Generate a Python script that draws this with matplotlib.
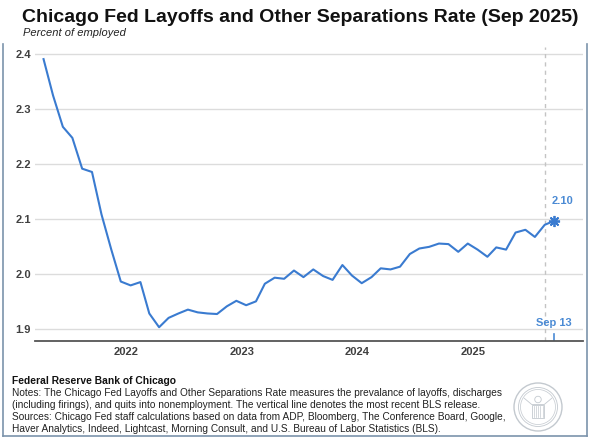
import matplotlib
matplotlib.use("Agg")
import matplotlib.pyplot as plt
from matplotlib.lines import Line2D
from matplotlib.patches import Circle, Rectangle
import pandas as pd
import numpy as np

plt.rcParams['font.family'] = ['Liberation Sans', 'DejaVu Sans']

# monthly readings (mid-month), Apr 2021 - Aug 2025
rate = [2.391, 2.325, 2.268, 2.248, 2.192, 2.186, 2.109, 2.045, 1.987,
        1.980, 1.986, 1.929, 1.904, 1.921, 1.929, 1.936, 1.931, 1.929, 1.928, 1.942, 1.952,
        1.944, 1.951, 1.983, 1.994, 1.992, 2.007, 1.995, 2.009, 1.997, 1.990, 2.017, 1.998,
        1.984, 1.995, 2.011, 2.009, 2.014, 2.037, 2.047, 2.050, 2.056, 2.055, 2.041, 2.056,
        2.045, 2.032, 2.049, 2.045, 2.076, 2.081, 2.068, 2.090]
latest_date = "2025-09-13"
latest_rate = 2.097
latest_label = "2.10"
release_date = "2025-08-15"
year_ticks = [2022, 2023, 2024, 2025]
y_ticks = [1.9, 2.0, 2.1, 2.2, 2.3, 2.4]

title = "Chicago Fed Layoffs and Other Separations Rate (Sep 2025)"
subtitle = "Percent of employed"
source_head = "Federal Reserve Bank of Chicago"
notes = ("Notes: The Chicago Fed Layoffs and Other Separations Rate measures the prevalance of layoffs, discharges\n"
         "(including firings), and quits into nonemployment. The vertical line denotes the most recent BLS release.\n"
         "Sources: Chicago Fed staff calculations based on data from ADP, Bloomberg, The Conference Board, Google,\n"
         "Haver Analytics, Indeed, Lightcast, Morning Consult, and U.S. Bureau of Labor Statistics (BLS).")

dates = pd.date_range("2021-04-01", periods=len(rate), freq="MS") + pd.Timedelta(days=14)
dates = list(dates) + [pd.Timestamp(latest_date)]
values = rate + [latest_rate]

W, H = 590, 438
fig = plt.figure(figsize=(W / 100, H / 100), dpi=100)
ax = fig.add_axes([35 / W, 1 - 341 / H, (583 - 35) / W, (341 - 47) / H])

line_c = "#3a7bd0"
lab_c = "#4a8ad4"

ax.plot(dates, values, color=line_c, lw=1.5, zorder=3)
ax.plot([pd.Timestamp(latest_date)], [latest_rate], marker=(8, 2, 0), ms=8,
        mec=line_c, mfc=line_c, mew=1.3, zorder=4)
ax.annotate(latest_label, (pd.Timestamp(latest_date), latest_rate), xytext=(6, 11),
            textcoords="offset points", ha="center", va="bottom",
            fontsize=8, fontweight="bold", color=lab_c)

ax.axvline(pd.Timestamp(release_date), color="#c4c4c4", lw=1, ls=(0, (3, 3)), zorder=2)
ax.axvline(pd.Timestamp(latest_date), ymin=0.0, ymax=0.024, color=lab_c, lw=1.2, zorder=2)
ax.text(pd.Timestamp(latest_date), 0.045, "Sep 13", transform=ax.get_xaxis_transform(),
        ha="center", va="bottom", fontsize=8, fontweight="bold", color=lab_c)

ax.set_xlim(pd.Timestamp("2021-03-19"), pd.Timestamp("2025-12-14"))
ax.set_ylim(1.879, 2.413)
ax.set_yticks(y_ticks)
ax.set_yticklabels([f"{v:.1f}" for v in y_ticks])
ax.set_xticks([pd.Timestamp(f"{y}-01-01") for y in year_ticks])
ax.set_xticklabels([str(y) for y in year_ticks])
ax.tick_params(axis="both", length=0, labelsize=8, labelcolor="#404040")
ax.tick_params(axis="y", pad=3)
ax.tick_params(axis="x", pad=4)
for lab in ax.get_xticklabels() + ax.get_yticklabels():
    lab.set_fontweight("bold")

ax.grid(axis="y", color="#dcdcdc", lw=1)
ax.set_axisbelow(True)
for s in ["top", "right", "left"]:
    ax.spines[s].set_visible(False)
ax.spines["bottom"].set_color("#555555")
ax.spines["bottom"].set_linewidth(1.3)

fig.text(300 / W, 1 - 17 / H, title, ha="center", va="center",
         fontsize=14, fontweight="bold", color="#111111")
fig.text(23 / W, 1 - 33 / H, subtitle, ha="left", va="center",
         fontsize=8, style="italic", color="#222222")
fig.text(12 / W, 1 - 381 / H, source_head, ha="left", va="center",
         fontsize=7.4, fontweight="bold", color="#111111")
fig.text(12 / W, 1 - 387.5 / H, notes, ha="left", va="top",
         fontsize=7.3, color="#222222", linespacing=1.25)

# frame
frame_c = "#7c93ab"
fig.add_artist(Line2D([2.5 / W, 2.5 / W], [1 - 44 / H, 1 - 436 / H], color=frame_c, lw=1.2))
fig.add_artist(Line2D([586.5 / W, 586.5 / W], [1 - 44 / H, 1 - 436 / H], color=frame_c, lw=1.2))
fig.add_artist(Line2D([2.5 / W, 586.5 / W], [1 - 436 / H, 1 - 436 / H], color=frame_c, lw=1.2))

# seal
sx = fig.add_axes([513 / W, 1 - 432 / H, 50 / W, 50 / H])
sx.set_xlim(-1, 1)
sx.set_ylim(-1, 1)
sx.set_aspect("equal")
sx.axis("off")
seal_c = "#c3c9cf"
for r, w in [(0.96, 1.0), (0.78, 0.6), (0.7, 0.5)]:
    sx.add_patch(Circle((0, 0), r, fill=False, ec=seal_c, lw=w))
sx.add_patch(Rectangle((-0.25, -0.45), 0.5, 0.55, fill=False, ec=seal_c, lw=0.6))
for xx in np.linspace(-0.18, 0.18, 5):
    sx.plot([xx, xx], [-0.4, 0.05], color=seal_c, lw=0.5)
sx.add_patch(Circle((0, 0.3), 0.13, fill=False, ec=seal_c, lw=0.6))
sx.plot([-0.55, -0.25, 0.25, 0.55], [0.35, 0.1, 0.1, 0.35], color=seal_c, lw=0.6)

fig.savefig("out.png", dpi=100)
